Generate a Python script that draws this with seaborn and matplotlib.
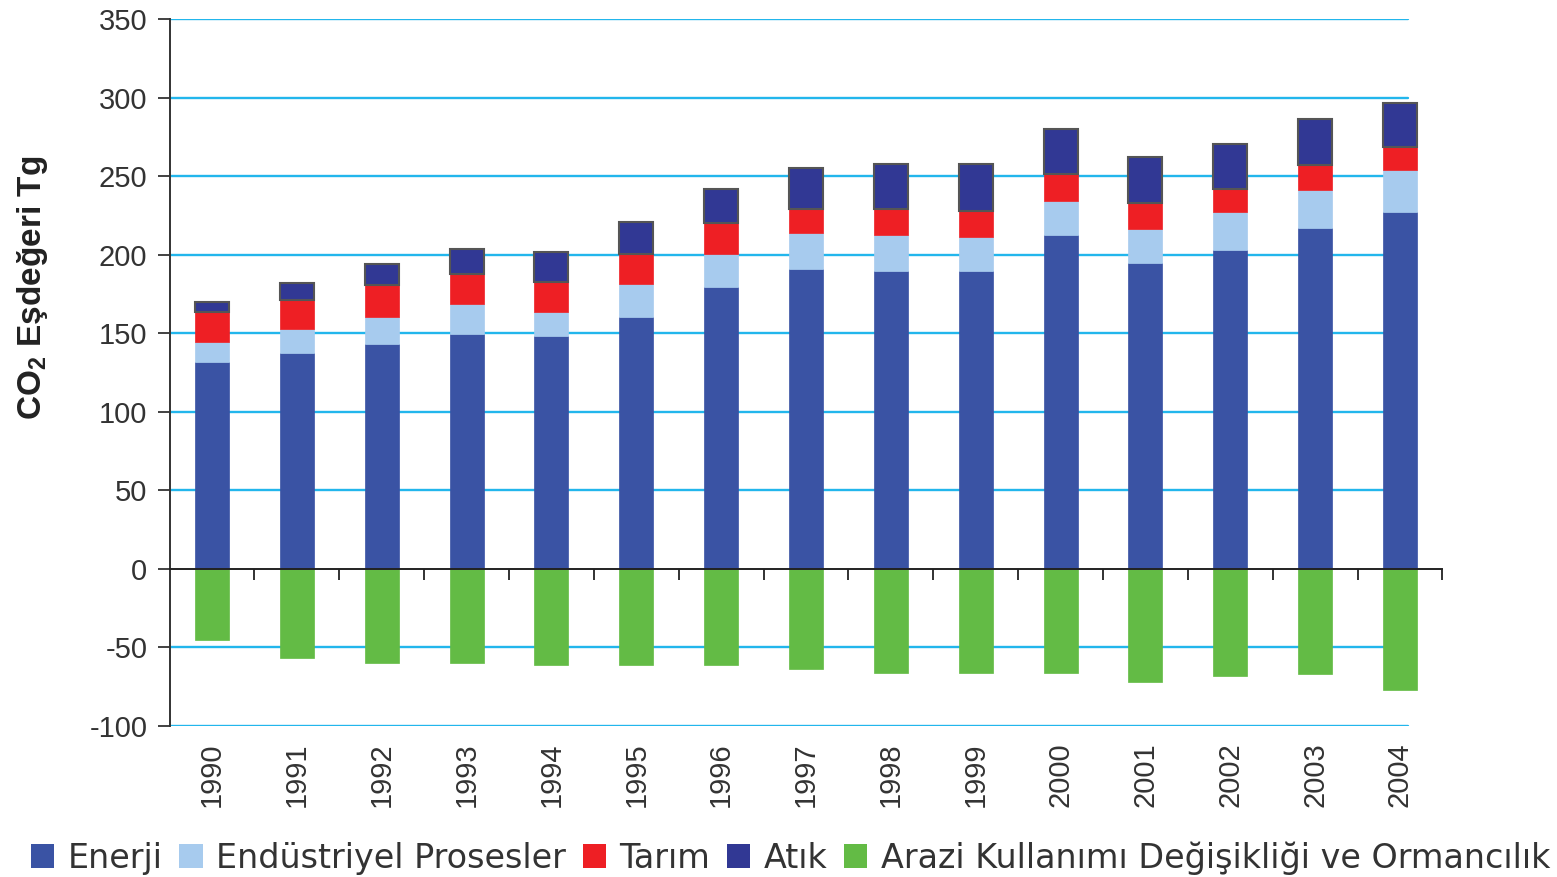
import numpy as np
import pandas as pd
import matplotlib
matplotlib.use('Agg')
import matplotlib.pyplot as plt
from matplotlib.patches import Patch
import seaborn as sns

# veriler (Tg CO2 eşdeğeri)
years = [str(y) for y in range(1990, 2005)]
enerji = [131.5, 137.2, 143.4, 149.3, 148.1, 160.2, 179.3, 191.1, 189.8, 189.8, 212.5, 194.7, 203.2, 217.3, 227.2]
endustri = [13.0, 15.5, 16.8, 19.1, 15.2, 21.2, 21.3, 22.7, 22.7, 21.4, 21.4, 21.5, 23.8, 23.7, 27.0]
tarim = [19.2, 18.3, 20.3, 19.3, 19.5, 19.2, 19.4, 15.5, 16.8, 16.8, 17.2, 17.0, 14.6, 16.1, 14.6]
atik = [6.3, 11.2, 13.5, 16.1, 18.7, 20.0, 21.8, 25.9, 28.2, 29.5, 29.1, 29.2, 29.1, 29.3, 28.0]
arazi = [-45.2, -56.5, -60.1, -60.1, -61.2, -61.2, -61.2, -63.6, -66.1, -66.1, -66.1, -72.2, -68.5, -67.2, -76.9]

labels = ['Enerji', 'Endüstriyel Prosesler', 'Tarım', 'Atık',
          'Arazi Kullanımı Değişikliği ve Ormancılık']
colors = ['#3a53a4', '#a7cbee', '#ee1f24', '#313894', '#63bb45']
y_ticks = [-100, -50, 0, 50, 100, 150, 200, 250, 300, 350]

df = pd.DataFrame({'Yıl': years, labels[0]: enerji, labels[1]: endustri,
                   labels[2]: tarim, labels[3]: atik, labels[4]: arazi})

sns.set_style('white')
plt.rcParams['font.family'] = ['Liberation Sans', 'DejaVu Sans']
plt.rcParams['mathtext.fontset'] = 'custom'
plt.rcParams['mathtext.rm'] = 'Liberation Sans'
plt.rcParams['mathtext.bf'] = 'Liberation Sans:bold'

fig = plt.figure(figsize=(15.57, 8.77), dpi=100)
ax = fig.add_axes([0.1089, 0.1722, 0.8175, 0.8061])

# pozitif yığılmış çubuklar
bottom = np.zeros(len(years))
for name, col in zip(labels[:4], colors[:4]):
    edge = '#555555' if name == 'Atık' else col
    lw = 1.5 if name == 'Atık' else 0.5
    sns.barplot(data=df, x='Yıl', y=name, color=col, saturation=1, width=0.4,
                bottom=bottom, errorbar=None, edgecolor=edge, linewidth=lw,
                ax=ax, zorder=3)
    bottom = bottom + df[name].values

# negatif arazi kullanımı çubukları
sns.barplot(data=df, x='Yıl', y=labels[4], color=colors[4], saturation=1, width=0.4,
            errorbar=None, edgecolor=colors[4], linewidth=0.5, ax=ax, zorder=3)

ax.set_xlim(-0.5, 14.5)
ax.set_ylim(-100, 350)
ax.set_yticks(y_ticks)
ax.set_yticklabels([str(v) for v in y_ticks])
for v in y_ticks:
    if v != 0:
        ax.axhline(v, xmin=0, xmax=0.973, color='#22b6ec', lw=1.7, zorder=1)

for s in ['top', 'right', 'bottom']:
    ax.spines[s].set_visible(False)
ax.spines['left'].set_color('#333333')
ax.spines['left'].set_linewidth(1.4)
ax.tick_params(axis='y', direction='out', length=9, width=1.3, color='#333333',
               pad=7, labelsize=21, labelcolor='#333333', left=True)
ax.tick_params(axis='x', length=0, pad=12, labelsize=21, labelcolor='#333333',
               labelrotation=90)

ax.set_xlabel('')
ax.set_ylabel(r'$\mathbf{CO_2}$ Eşdeğeri Tg', fontsize=24, fontweight='bold',
              color='#222222')
ax.yaxis.set_label_coords(-0.094, 0.62)

# sıfır çizgisi ve kategori sınırı tikleri
ax2 = ax.twiny()
ax2.set_xlim(-0.5, 14.5)
for s in ['top', 'left', 'right']:
    ax2.spines[s].set_visible(False)
ax2.spines['bottom'].set_position(('data', 0))
ax2.spines['bottom'].set_color('#222222')
ax2.spines['bottom'].set_linewidth(1.4)
ax2.xaxis.set_ticks_position('bottom')
ax2.set_xticks(np.arange(0.5, 15, 1))
ax2.tick_params(axis='x', direction='out', length=8, width=1.3, color='#222222',
                labelbottom=False, labeltop=False)

handles = [Patch(facecolor=c, edgecolor='none') for c in colors]
fig.legend(handles, labels, loc='center right', bbox_to_anchor=(1550 / 1557, 1 - 858 / 877),
           ncol=5, frameon=False, handlelength=0.7, handleheight=0.7,
           handletextpad=0.4, columnspacing=0.5, borderaxespad=0, borderpad=0,
           prop={'family': ['DejaVu Sans'], 'size': 24}, labelcolor='#333333')

fig.savefig('out.png', dpi=100, facecolor='white')
